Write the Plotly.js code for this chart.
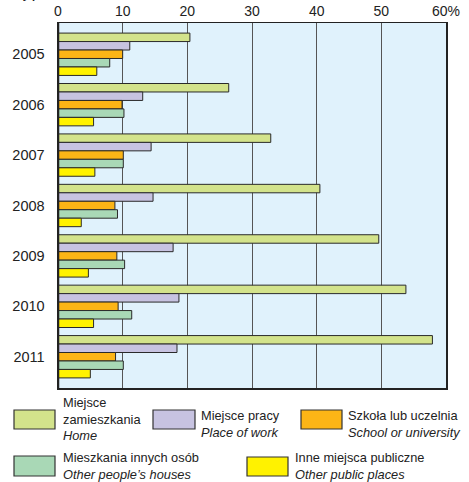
<!DOCTYPE html>
<html>
<head>
<meta charset="utf-8">
<script src="https://cdn.plot.ly/plotly-3.0.1.min.js"></script>
<style>html,body{margin:0;padding:0;background:#fff;}#chart{width:469px;height:482px;}</style>
</head>
<body>
<div id="chart"></div>
<script>
const years = ["2005","2006","2007","2008","2009","2010","2011"];
const home = [20.4, 26.4, 32.9, 40.5, 49.6, 53.8, 57.9];
const work = [11.1, 13.1, 14.4, 14.7, 17.8, 18.7, 18.4];
const school = [10.0, 9.9, 10.1, 8.8, 9.1, 9.3, 8.9];
const others = [8.0, 10.2, 10.1, 9.2, 10.3, 11.4, 10.1];
const publicPlaces = [6.0, 5.5, 5.7, 3.6, 4.7, 5.5, 5.0];
const xTicks = [0, 10, 20, 30, 40, 50, 60];
const xTickText = ["0", "10", "20", "30", "40", "50", "60%"];

const FONT = "Liberation Sans, Arial, sans-serif";
const series = [
  {name: "Home", values: home, color: "#d3e38b"},
  {name: "Place of work", values: work, color: "#c7c3e1"},
  {name: "School or university", values: school, color: "#fcb516"},
  {name: "Other people's houses", values: others, color: "#a9d8b6"},
  {name: "Other public places", values: publicPlaces, color: "#fff200"}
];
const traces = series.map(s => ({
  type: "bar", orientation: "h", x: s.values, y: years, name: s.name,
  marker: {color: s.color, line: {color: "#2a2a2a", width: 1}},
  hoverinfo: "x+name"
}));

const W = 469, H = 482, ml = 58, mr = 23, mt = 23, mb = 94;
const pw = W - ml - mr, ph = H - mt - mb;
function px(x) { return (x - ml) / pw; }
function py(y) { return 1 - (y - mt) / ph; }

const legendItems = [
  {x0: 14, x1: 55, y0: 410, y1: 429, color: "#d3e38b", tx: 61, lines: ["Miejsce", "zamieszkania", "<i>Home</i>"], ty: 393},
  {x0: 153, x1: 195, y0: 410, y1: 429, color: "#c7c3e1", tx: 199, lines: ["Miejsce pracy", "<i>Place of work</i>"], ty: 406},
  {x0: 301, x1: 342, y0: 410, y1: 429, color: "#fcb516", tx: 346, lines: ["Szkoła lub uczelnia", "<i>School or university</i>"], ty: 406},
  {x0: 14, x1: 55, y0: 456, y1: 476, color: "#a9d8b6", tx: 61, lines: ["Mieszkania innych osób", "<i>Other people’s houses</i>"], ty: 448},
  {x0: 247, x1: 288, y0: 457, y1: 476, color: "#fff200", tx: 293, lines: ["Inne miejsca publiczne", "<i>Other public places</i>"], ty: 448}
];
const shapes = legendItems.map(it => ({
  type: "rect", xref: "paper", yref: "paper",
  x0: px(it.x0), x1: px(it.x1), y0: py(it.y1), y1: py(it.y0),
  fillcolor: it.color, line: {color: "#333", width: 1.2}
}));
const annotations = legendItems.map(it => ({
  xref: "paper", yref: "paper", x: px(it.tx), y: py(it.ty),
  xanchor: "left", yanchor: "top", align: "left", showarrow: false,
  text: it.lines.join("<br>"), font: {family: FONT, size: 12.8, color: "#222"}
}));
annotations.push({
  xref: "paper", yref: "paper", x: px(14), y: py(3), xanchor: "left", yanchor: "bottom",
  showarrow: false, text: "<b>by places of use</b>", font: {family: FONT, size: 11, color: "#222"}
});

const layout = {
  width: W, height: H,
  margin: {l: ml, r: mr, t: mt, b: mb, pad: 0},
  paper_bgcolor: "#ffffff", plot_bgcolor: "#e0f2fc",
  barmode: "group", bargap: 0.16, bargroupgap: 0,
  showlegend: false,
  font: {family: FONT, size: 13, color: "#222"},
  xaxis: {
    range: [0, 60], side: "top", tickvals: xTicks, ticktext: xTickText,
    showgrid: true, gridcolor: "#555", gridwidth: 1,
    zeroline: false, showline: true, linecolor: "#222", linewidth: 1.5, mirror: true,
    ticks: "", tickfont: {family: FONT, size: 14, color: "#222"}, fixedrange: true
  },
  yaxis: {
    type: "category", categoryorder: "array", categoryarray: years,
    range: [6.62, -0.62], showgrid: false, zeroline: false,
    showline: true, linecolor: "#222", linewidth: 1.5, mirror: true,
    ticks: "", ticklabelstandoff: 9, tickfont: {family: FONT, size: 14.5, color: "#222"}, fixedrange: true
  },
  shapes: shapes.concat([{type: "line", xref: "x", yref: "paper", x0: 0, x1: 0, y0: 0, y1: 1, line: {color: "#222", width: 2.5}}]),
  annotations: annotations
};
Plotly.newPlot("chart", traces, layout, {displayModeBar: false, staticPlot: true});
</script>
</body>
</html>
